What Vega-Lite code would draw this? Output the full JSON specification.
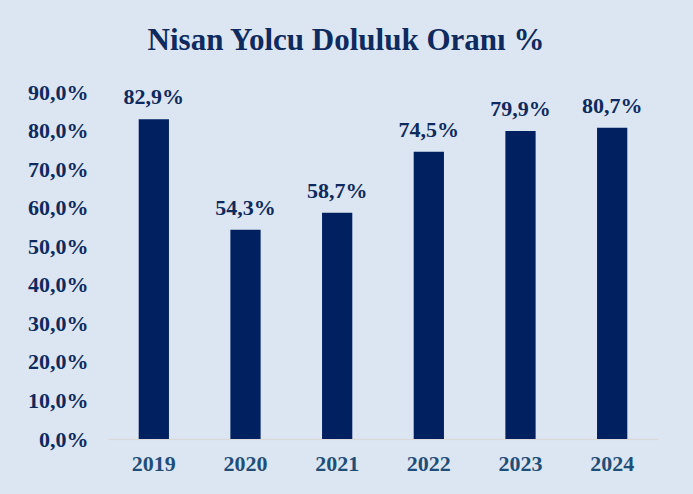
{
  "$schema": "https://vega.github.io/schema/vega-lite/v6.json",
  "width": 550,
  "height": 347,
  "autosize": {"type": "none"},
  "padding": {"left": 108, "top": 92, "right": 35, "bottom": 55},
  "background": "#dce6f2",
  "config": {
    "locale": {"number": {"decimal": ",", "thousands": ".", "grouping": [3], "currency": ["", " ₺"]}},
    "view": {"stroke": null},
    "font": "Liberation Serif"
  },
  "title": {
    "text": "Nisan Yolcu Doluluk Oranı %",
    "font": "Liberation Serif",
    "fontSize": 31,
    "fontWeight": "bold",
    "color": "#0e2a5e",
    "anchor": "middle",
    "dx": -37,
    "offset": 24
  },
  "data": {
    "values": [
      {"year": "2019", "rate": 0.829},
      {"year": "2020", "rate": 0.543},
      {"year": "2021", "rate": 0.587},
      {"year": "2022", "rate": 0.745},
      {"year": "2023", "rate": 0.799},
      {"year": "2024", "rate": 0.807}
    ]
  },
  "encoding": {
    "x": {
      "field": "year",
      "type": "ordinal",
      "scale": {"paddingInner": 0.67, "paddingOuter": 0.335},
      "axis": {
        "title": null,
        "labelAngle": 0,
        "labelFont": "Liberation Serif",
        "labelFontSize": 22,
        "labelFontWeight": "bold",
        "labelColor": "#1f4e79",
        "labelPadding": 14,
        "ticks": false,
        "domainColor": "#d9d9d9",
        "domainWidth": 1.5
      }
    },
    "y": {
      "field": "rate",
      "type": "quantitative",
      "scale": {"domain": [0, 0.9], "nice": false},
      "axis": {
        "title": null,
        "format": ".1%",
        "values": [0, 0.1, 0.2, 0.3, 0.4, 0.5, 0.6, 0.7, 0.8, 0.9],
        "grid": false,
        "domain": false,
        "ticks": false,
        "labelFont": "Liberation Serif",
        "labelFontSize": 22,
        "labelFontWeight": "bold",
        "labelColor": "#0e2a5e",
        "labelPadding": 20
      }
    }
  },
  "layer": [
    {"mark": {"type": "bar", "color": "#002060"}},
    {
      "mark": {
        "type": "text",
        "baseline": "alphabetic",
        "dy": -15,
        "font": "Liberation Serif",
        "fontSize": 22,
        "fontWeight": "bold",
        "color": "#0e2a5e"
      },
      "encoding": {"text": {"field": "rate", "type": "quantitative", "format": ".1%"}}
    }
  ]
}
